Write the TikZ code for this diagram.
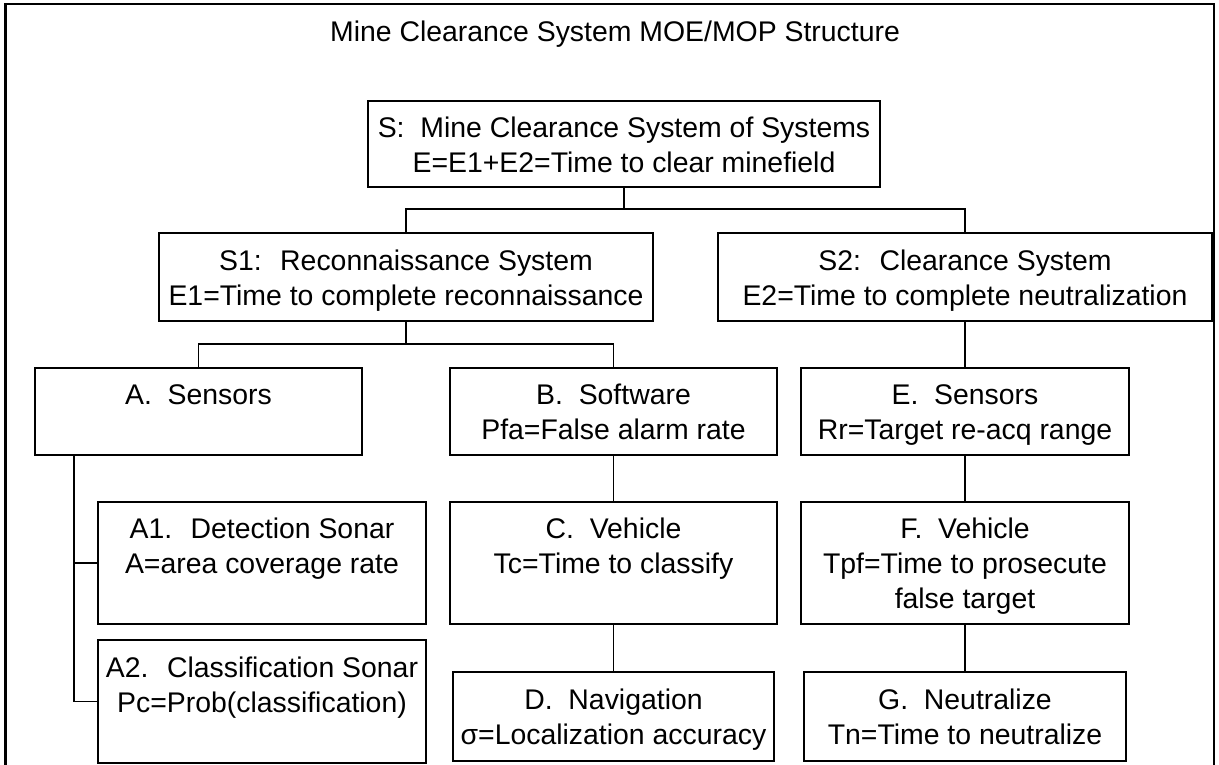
\documentclass[tikz,border=0pt]{standalone}
\usepackage{fontspec}
\setmainfont{Liberation Sans}
\newcommand\lnstrut{\rule[-7pt]{0pt}{35pt}}
\begin{document}
\begin{tikzpicture}[x=1pt,y=-1pt,
  txt/.style={font=\fontsize{28.4}{35}\selectfont},
  box/.style={txt, draw, line width=1.8pt, inner sep=0pt, align=center},
  link/.style={line width=1.8pt},
  frame/.style={line width=2.4pt}]
\useasboundingbox (0,0) rectangle (1219,765);
\draw[frame] (5.5,767) -- (5.5,4) -- (1214,4) -- (1214,767);
\node[txt] (title) at (615,34) {Mine Clearance System MOE/MOP Structure};
% level 0
\node[box, minimum width=512pt, minimum height=86pt] (S) at (624,144)
  {\lnstrut S:~ Mine Clearance System of Systems\\\lnstrut E=E1+E2=Time to clear minefield};
% level 1
\node[box, minimum width=494pt, minimum height=88pt] (S1) at (406,277)
  {\lnstrut S1:~ Reconnaissance System\\\lnstrut E1=Time to complete reconnaissance};
\node[box, minimum width=494pt, minimum height=88pt] (S2) at (965,277)
  {\lnstrut S2:~ Clearance System\\\lnstrut E2=Time to complete neutralization};
% level 2
\node[box, minimum width=327pt, minimum height=87pt] (A) at (198.5,411.5)
  {\lnstrut A.~ Sensors\\\lnstrut};
\node[box, minimum width=327pt, minimum height=87pt] (B) at (613.5,411.5)
  {\lnstrut B.~ Software\\\lnstrut Pfa=False alarm rate};
\node[box, minimum width=328pt, minimum height=87pt] (E) at (965,411.5)
  {\lnstrut E.~ Sensors\\\lnstrut Rr=Target re-acq range};
% level 3
\node[box, minimum width=328pt, minimum height=122pt] (A1) at (262,563)
  {\lnstrut A1.~ Detection Sonar\\\lnstrut A=area coverage rate\\\lnstrut};
\node[box, minimum width=327pt, minimum height=122pt] (C) at (613.5,563)
  {\lnstrut C.~ Vehicle\\\lnstrut Tc=Time to classify\\\lnstrut};
\node[box, minimum width=328pt, minimum height=122pt] (F) at (965,563)
  {\lnstrut F.~ Vehicle\\\lnstrut Tpf=Time to prosecute\\\lnstrut false target};
% level 4
\node[box, minimum width=328pt, minimum height=123pt] (A2) at (262,701.5)
  {\lnstrut A2.~ Classification Sonar\\\lnstrut Pc=Prob(classification)\\\lnstrut};
\node[box, minimum width=321pt, minimum height=89pt] (D) at (613.5,716.5)
  {\lnstrut D.~ Navigation\\\lnstrut σ=Localization accuracy};
\node[box, minimum width=322pt, minimum height=89pt] (G) at (965,716.5)
  {\lnstrut G.~ Neutralize\\\lnstrut Tn=Time to neutralize};
% connectors
\coordinate (busS) at (624,209);
\coordinate (busR) at (406,344);
\coordinate (trunk) at (74,455);
\draw[link] (S.south) -- (busS);
\draw[link] (S1.north) |- (busS) -| (S2.north);
\draw[link] (S1.south) -- (busR);
\draw[link] (A.north) |- (busR) -| (B.north);
\draw[link] (S2.south) -- (E.north);
\draw[link] (trunk) |- (A1.west);
\draw[link] (trunk) |- (A2.west);
\draw[link] (B.south) -- (C.north);
\draw[link] (C.south) -- (D.north);
\draw[link] (E.south) -- (F.north);
\draw[link] (F.south) -- (G.north);
\end{tikzpicture}
\end{document}
